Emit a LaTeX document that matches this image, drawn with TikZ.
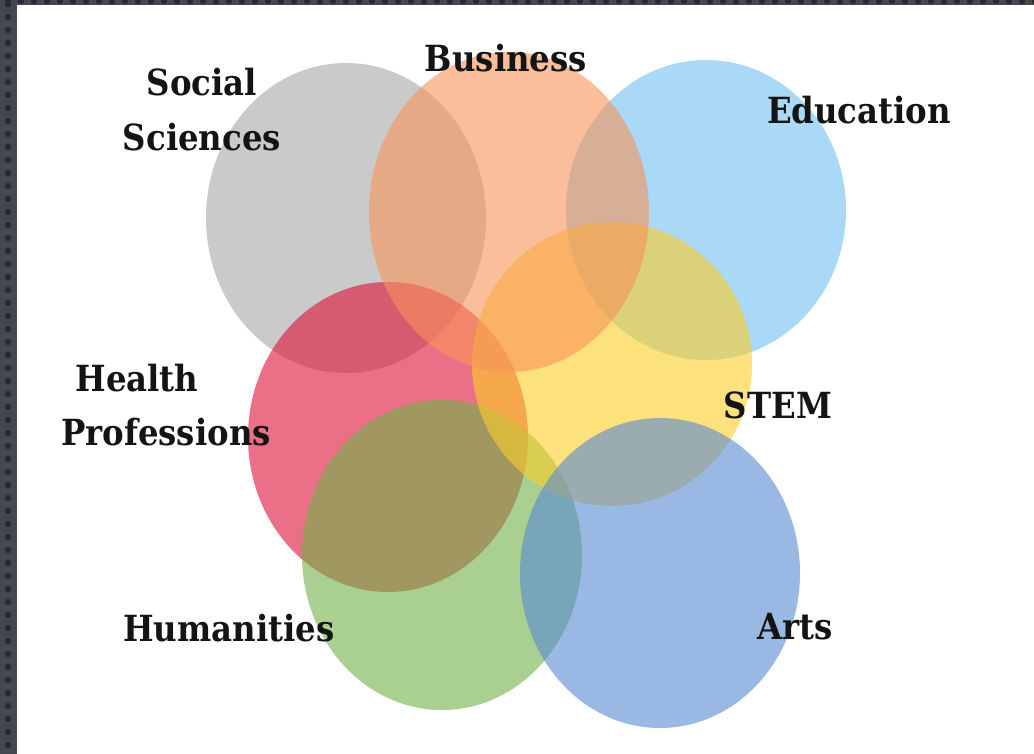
\documentclass[tikz,border=0pt]{standalone}
\usepackage{fontspec}
\setmainfont{DejaVu Serif Condensed}
\usetikzlibrary{shapes.geometric}
\definecolor{framecol}{RGB}{70,72,80}
\definecolor{framedot}{RGB}{40,42,48}
\definecolor{cgray}{RGB}{168,168,168}
\definecolor{corange}{RGB}{247,147,88}
\definecolor{cblue}{RGB}{113,193,243}
\definecolor{cyellow}{RGB}{252,205,38}
\definecolor{cred}{RGB}{222,17,55}
\definecolor{cgreen}{RGB}{113,177,72}
\definecolor{carts}{RGB}{88,138,210}
\begin{document}
\begin{tikzpicture}[x=1pt,y=-1pt,
  blob/.style={ellipse, inner sep=0pt, draw=none, fill opacity=0.6, minimum width=280pt, minimum height=310pt},
  lab/.style={font=\fontsize{36}{55}\selectfont\bfseries, align=center, text=black!92, inner sep=0pt}]
\useasboundingbox (0,0) rectangle (1034,754);
\fill[framecol] (0,0) rectangle (1034,754);
\begin{scope}
  \clip (0,0) rectangle (17,754);
  \foreach \j in {0,...,58} {
    \fill[framedot] (8,{\j*13+4}) circle (3.2);
  }
\end{scope}
\begin{scope}
  \clip (0,0) rectangle (1034,5);
  \foreach \i in {0,...,80} {
    \fill[framedot] ({\i*13+8},1) circle (3.2);
  }
\end{scope}
\fill[white] (17,5) rectangle (1034,754);
\node[blob, fill=cgray] (soc) at (346,218) {};
\node[blob, fill=cred] (hea) at (388,437) {};
\node[blob, fill=cgreen] (hum) at (442,555) {};
\node[blob, fill=cblue, minimum height=300pt] (edu) at (706,210) {};
\node[blob, fill=cyellow, minimum height=284pt] (stem) at (612,364) {};
\node[blob, fill=corange, minimum height=320pt] (bus) at (509,212) {};
\node[blob, fill=carts] (art) at (660,573) {};
\node[lab] (tsoc) at (202,110) {Social\\Sciences};
\node[lab] (tbus) at (506,58) {Business};
\node[lab] (tedu) at (859,110) {Education};
\node[lab] (thea1) at (137,378) {Health};
\node[lab] (thea2) at (166,432) {Professions};
\node[lab] (tstem) at (778,405) {STEM};
\node[lab] (thum) at (229,628) {Humanities};
\node[lab] (tart) at (795,627) {Arts};
\end{tikzpicture}
\end{document}
